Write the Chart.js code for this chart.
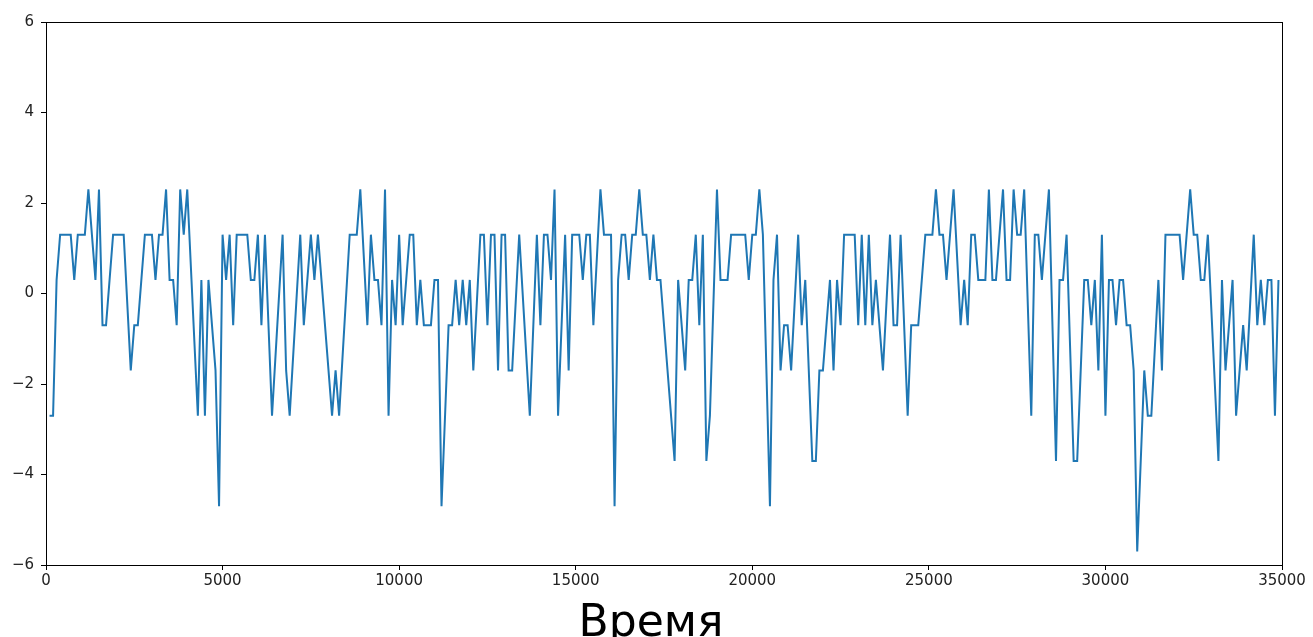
<!DOCTYPE html>
<html>
<head>
<meta charset="utf-8">
<script src="https://cdn.jsdelivr.net/npm/chart.js@4/dist/chart.umd.min.js"></script>
<style>
  html, body { margin: 0; padding: 0; background: #fff; }
  #wrap { width: 1313px; height: 637px; }
</style>
</head>
<body>
<div id="wrap"><canvas id="chart"></canvas></div>
<script>
// Signal vertices (time, value)
const timePoints = [
  100, 200, 300, 400, 700, 800, 900, 1100, 1200, 1400, 1500, 1600, 1700, 1900, 2200, 2400, 2500, 2600, 2800, 3000, 3100,
  3200, 3300, 3400, 3500, 3600, 3700, 3800, 3900, 4000, 4300, 4400, 4500, 4600, 4800, 4900, 5000, 5100, 5200, 5300, 5400, 5700, 5800, 5900, 6000, 6100, 6200,
  6400, 6700, 6800, 6900, 7200, 7300, 7500, 7600, 7700, 8100, 8200, 8300, 8600, 8800, 8900, 9100, 9200, 9300, 9400,
  9500, 9600, 9700, 9800, 9900, 10000, 10100, 10300, 10400, 10500, 10600, 10700, 10900, 11000, 11100, 11200, 11400, 11500, 11600, 11700, 11800, 11900, 12000, 12100, 12300, 12400, 12500, 12600,
  12700, 12800, 12900, 13000, 13100, 13200, 13400, 13700, 13900, 14000, 14100, 14200, 14300, 14400, 14500, 14700, 14800, 14900, 15100, 15200, 15300, 15400, 15500, 15700, 15800,
  16000, 16100, 16200, 16300, 16400, 16500, 16600, 16700, 16800, 16900, 17000, 17100, 17200, 17300, 17400, 17800, 17900, 18100, 18200, 18300, 18400, 18500, 18600, 18700, 18800, 19000,
  19100, 19300, 19400, 19800, 19900, 20000, 20100, 20200, 20300, 20500, 20600, 20700, 20800, 20900, 21000, 21100, 21300, 21400, 21500, 21700, 21800, 21900, 22000, 22200,
  22300, 22400, 22500, 22600, 22900, 23000, 23100, 23200, 23300, 23400, 23500, 23700, 23900, 24000, 24100, 24200, 24400, 24500, 24700, 24900, 25100, 25200, 25300, 25400, 25500,
  25700, 25900, 26000, 26100, 26200, 26300, 26400, 26600, 26700, 26800, 26900, 27100, 27200, 27300, 27400, 27500, 27600, 27700, 27900, 28000, 28100, 28200, 28400, 28600,
  28700, 28800, 28900, 29100, 29200, 29400, 29500, 29600, 29700, 29800, 29900, 30000, 30100, 30200, 30300, 30400, 30500, 30600, 30700, 30800, 30900, 31100, 31200, 31300, 31500, 31600, 31700, 31900,
  32100, 32200, 32400, 32500, 32600, 32700, 32800, 32900, 33200, 33300, 33400, 33600, 33700, 33900, 34000, 34200, 34300, 34400, 34500, 34600, 34700, 34800, 34900
];
const signalValues = [
  -2.7, -2.7, 0.3, 1.3, 1.3, 0.3, 1.3, 1.3, 2.3, 0.3, 2.3, -0.7, -0.7, 1.3, 1.3, -1.7, -0.7, -0.7, 1.3, 1.3, 0.3,
  1.3, 1.3, 2.3, 0.3, 0.3, -0.7, 2.3, 1.3, 2.3, -2.7, 0.3, -2.7, 0.3, -1.7, -4.7, 1.3, 0.3, 1.3, -0.7, 1.3, 1.3, 0.3, 0.3, 1.3, -0.7, 1.3,
  -2.7, 1.3, -1.7, -2.7, 1.3, -0.7, 1.3, 0.3, 1.3, -2.7, -1.7, -2.7, 1.3, 1.3, 2.3, -0.7, 1.3, 0.3, 0.3,
  -0.7, 2.3, -2.7, 0.3, -0.7, 1.3, -0.7, 1.3, 1.3, -0.7, 0.3, -0.7, -0.7, 0.3, 0.3, -4.7, -0.7, -0.7, 0.3, -0.7, 0.3, -0.7, 0.3, -1.7, 1.3, 1.3, -0.7, 1.3,
  1.3, -1.7, 1.3, 1.3, -1.7, -1.7, 1.3, -2.7, 1.3, -0.7, 1.3, 1.3, 0.3, 2.3, -2.7, 1.3, -1.7, 1.3, 1.3, 0.3, 1.3, 1.3, -0.7, 2.3, 1.3,
  1.3, -4.7, 0.3, 1.3, 1.3, 0.3, 1.3, 1.3, 2.3, 1.3, 1.3, 0.3, 1.3, 0.3, 0.3, -3.7, 0.3, -1.7, 0.3, 0.3, 1.3, -0.7, 1.3, -3.7, -2.7, 2.3,
  0.3, 0.3, 1.3, 1.3, 0.3, 1.3, 1.3, 2.3, 1.3, -4.7, 0.3, 1.3, -1.7, -0.7, -0.7, -1.7, 1.3, -0.7, 0.3, -3.7, -3.7, -1.7, -1.7, 0.3,
  -1.7, 0.3, -0.7, 1.3, 1.3, -0.7, 1.3, -0.7, 1.3, -0.7, 0.3, -1.7, 1.3, -0.7, -0.7, 1.3, -2.7, -0.7, -0.7, 1.3, 1.3, 2.3, 1.3, 1.3, 0.3,
  2.3, -0.7, 0.3, -0.7, 1.3, 1.3, 0.3, 0.3, 2.3, 0.3, 0.3, 2.3, 0.3, 0.3, 2.3, 1.3, 1.3, 2.3, -2.7, 1.3, 1.3, 0.3, 2.3, -3.7,
  0.3, 0.3, 1.3, -3.7, -3.7, 0.3, 0.3, -0.7, 0.3, -1.7, 1.3, -2.7, 0.3, 0.3, -0.7, 0.3, 0.3, -0.7, -0.7, -1.7, -5.7, -1.7, -2.7, -2.7, 0.3, -1.7, 1.3, 1.3,
  1.3, 0.3, 2.3, 1.3, 1.3, 0.3, 0.3, 1.3, -3.7, 0.3, -1.7, 0.3, -2.7, -0.7, -1.7, 1.3, -0.7, 0.3, -0.7, 0.3, 0.3, -2.7, 0.3
];
const xTickValues = [0, 5000, 10000, 15000, 20000, 25000, 30000, 35000];
const yTickValues = [-6, -4, -2, 0, 2, 4, 6];
const xTitle = "Время";

const FONT = "'DejaVu Sans', sans-serif";

// top/right spines like matplotlib, plus the x label (sits a bit left of the axis centre in the original)
const framePlugin = {
  id: "frame",
  afterDraw(chart) {
    const { ctx, chartArea: a } = chart;
    ctx.save();
    ctx.strokeStyle = "#000";
    ctx.lineWidth = 1;
    ctx.strokeRect(a.left + 0.5, a.top + 0.5, a.right - a.left, a.bottom - a.top);

    ctx.fillStyle = "#000";
    ctx.font = "44px " + FONT;
    ctx.textAlign = "center";
    ctx.textBaseline = "alphabetic";
    ctx.fillText(xTitle, 651, 636);
    ctx.restore();
  }
};

const minusFmt = v => String(v).replace("-", "\u2212");

new Chart(document.getElementById("chart"), {
  type: "line",
  data: {
    datasets: [{
      data: timePoints.map((t, i) => ({ x: t, y: signalValues[i] })),
      borderColor: "#1f77b4",
      borderWidth: 2,
      pointRadius: 0,
      tension: 0,
      fill: false
    }]
  },
  options: {
    responsive: true,
    maintainAspectRatio: false,
    animation: false,
    layout: { padding: { top: 22, right: 31, left: 0, bottom: 0 } },
    plugins: { legend: { display: false }, tooltip: { enabled: false } },
    scales: {
      x: {
        type: "linear",
        min: 0,
        max: 35000,
        afterBuildTicks: s => { s.ticks = xTickValues.map(v => ({ value: v })); },
        afterFit: s => { s.height = 72; },
        grid: { drawOnChartArea: false, drawTicks: true, tickLength: 5, color: "#000" },
        border: { display: true, color: "#000" },
        ticks: { color: "#222", font: { family: FONT, size: 15 }, padding: 2, maxRotation: 0, callback: v => minusFmt(v) }
      },
      y: {
        min: -6,
        max: 6,
        afterBuildTicks: s => { s.ticks = yTickValues.map(v => ({ value: v })); },
        afterFit: s => { s.width = 46; },
        grid: { drawOnChartArea: false, drawTicks: true, tickLength: 5, color: "#000" },
        border: { display: true, color: "#000" },
        ticks: { color: "#222", font: { family: FONT, size: 15 }, padding: 7, callback: v => minusFmt(v) }
      }
    }
  },
  plugins: [framePlugin]
});
</script>
</body>
</html>
